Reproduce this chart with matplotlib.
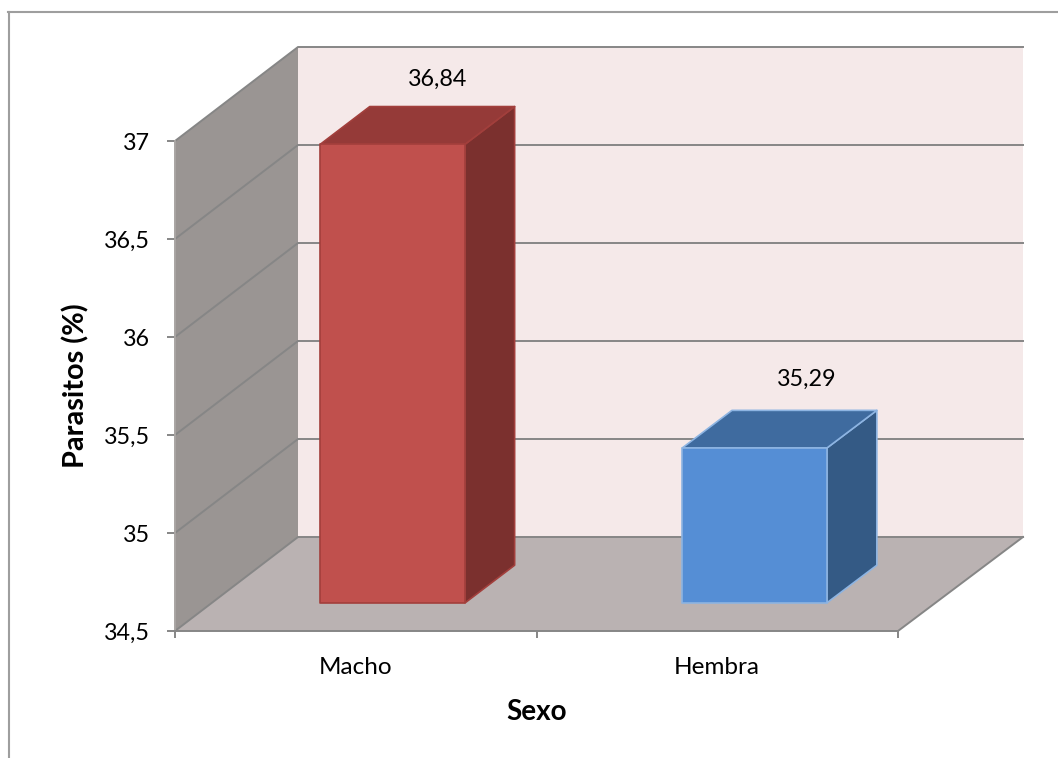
import matplotlib
matplotlib.use("Agg")
import matplotlib.pyplot as plt
from matplotlib.patches import Polygon
from matplotlib.lines import Line2D

categories = ["Macho", "Hembra"]
values = [36.84, 35.29]
value_labels = ["36,84", "35,29"]
y_ticks = [34.5, 35, 35.5, 36, 36.5, 37]
y_tick_labels = ["34,5", "35", "35,5", "36", "36,5", "37"]

plt.rcParams["font.family"] = ["Lato", "DejaVu Sans"]
W, H = 1058, 758
fig = plt.figure(figsize=(W / 100, H / 100), dpi=100, facecolor="white")
ax = fig.add_axes([175 / W, (H - 631) / H, 723 / W, 490 / H], facecolor="none")
ax.set_xlim(0, 2)
ax.set_ylim(34.5, 37)

DX = 123 / 361.5   # category units at full depth
DY = 94 / 196      # value units at full depth
SPREAD = 0.00277   # slight widening towards the back wall
YMIN, YMAX = 34.5, 37
XMAX = 2


def P(x, y, d):
    return (x + (DX + SPREAD * x) * d, y + DY * d)


def quad(pts, fc, ec="none", lw=0, z=1):
    ax.add_patch(Polygon(pts, closed=True, fc=fc, ec=ec, lw=lw, zorder=z,
                         clip_on=False, joinstyle="round"))


GRID = "#868686"
# walls
quad([P(0, YMIN, 1), P(XMAX, YMIN, 1), P(XMAX, YMAX, 1), P(0, YMAX, 1)], "#F5E9E9", z=1)
quad([P(0, YMIN, 0), P(0, YMAX, 0), P(0, YMAX, 1), P(0, YMIN, 1)], "#9A9593", z=1)
quad([P(0, YMIN, 0), P(XMAX, YMIN, 0), P(XMAX, YMIN, 1), P(0, YMIN, 1)], "#BAB2B2", z=1)

# gridlines on the side and back walls
for v in y_ticks:
    a, b, c = P(0, v, 0), P(0, v, 1), P(XMAX, v, 1)
    ax.plot([a[0], b[0], c[0]], [a[1], b[1], c[1]], color=GRID, lw=1.4, zorder=2,
            clip_on=False, solid_joinstyle="miter")
a, b = P(XMAX, YMIN, 0), P(XMAX, YMIN, 1)
ax.plot([a[0], b[0]], [a[1], b[1]], color=GRID, lw=1.4, zorder=2, clip_on=False)

# bars
D0, D1 = 0.30, 0.70
HALF = 0.2
styles = [
    dict(front="#C0504D", top="#953A38", side="#7B302E", edge="#A23F3C"),
    dict(front="#558ED5", top="#3F6B9F", side="#345A85", edge="#8DB4E2"),
]
label_offsets = [(-5, 27.5), (2, 31.5)]
for i, (val, st, txt, off) in enumerate(zip(values, styles, value_labels, label_offsets)):
    cx = i + 0.5
    x0, x1 = cx - HALF, cx + HALF
    e = dict(ec=st["edge"], lw=1.2, z=3)
    quad([P(x1, YMIN, D0), P(x1, YMIN, D1), P(x1, val, D1), P(x1, val, D0)], st["side"], **e)
    quad([P(x0, val, D0), P(x1, val, D0), P(x1, val, D1), P(x0, val, D1)], st["top"], **e)
    quad([P(x0, YMIN, D0), P(x1, YMIN, D0), P(x1, val, D0), P(x0, val, D0)], st["front"], **e)
    ax.annotate(txt, xy=P(cx, val, D1), xytext=(off[0] * 0.72, off[1] * 0.72),
                textcoords="offset points", ha="center", va="center",
                fontsize=16.8, color="black", zorder=5, annotation_clip=False)

# axes
for s in ("top", "right"):
    ax.spines[s].set_visible(False)
for s in ("left", "bottom"):
    ax.spines[s].set_color(GRID)
    ax.spines[s].set_linewidth(1.4)
    ax.spines[s].set_zorder(4)
ax.spines["left"].set_color("#A9A5A3")
ax.set_yticks(y_ticks, y_tick_labels, fontsize=16.8)
ax.set_xticks([0, 1, 2], ["", "", ""])
ax.set_xticks([0.5, 1.5], categories, minor=True, fontsize=17.5)
ax.tick_params(axis="y", length=6, width=1.4, color=GRID, pad=12)
ax.tick_params(axis="x", which="major", length=5, width=1.4, color=GRID)
ax.tick_params(axis="x", which="minor", length=0, pad=19)

fig.text(76 / W, 1 - 386 / H, "Parasitos (%)", rotation=90, ha="center", va="center",
         fontsize=20.8, fontweight="bold")
fig.text(537 / W, 1 - 712 / H, "Sexo", ha="center", va="center",
         fontsize=20, fontweight="bold")

# chart area frame
BORDER = "#9E9E9E"
fig.add_artist(Line2D([8.5 / W, 8.5 / W], [0, 1 - 12 / H], color=BORDER, lw=1.5))
fig.add_artist(Line2D([8 / W, 1], [1 - 12 / H, 1 - 12 / H], color=BORDER, lw=1.5))

fig.savefig("out.png", dpi=100)
